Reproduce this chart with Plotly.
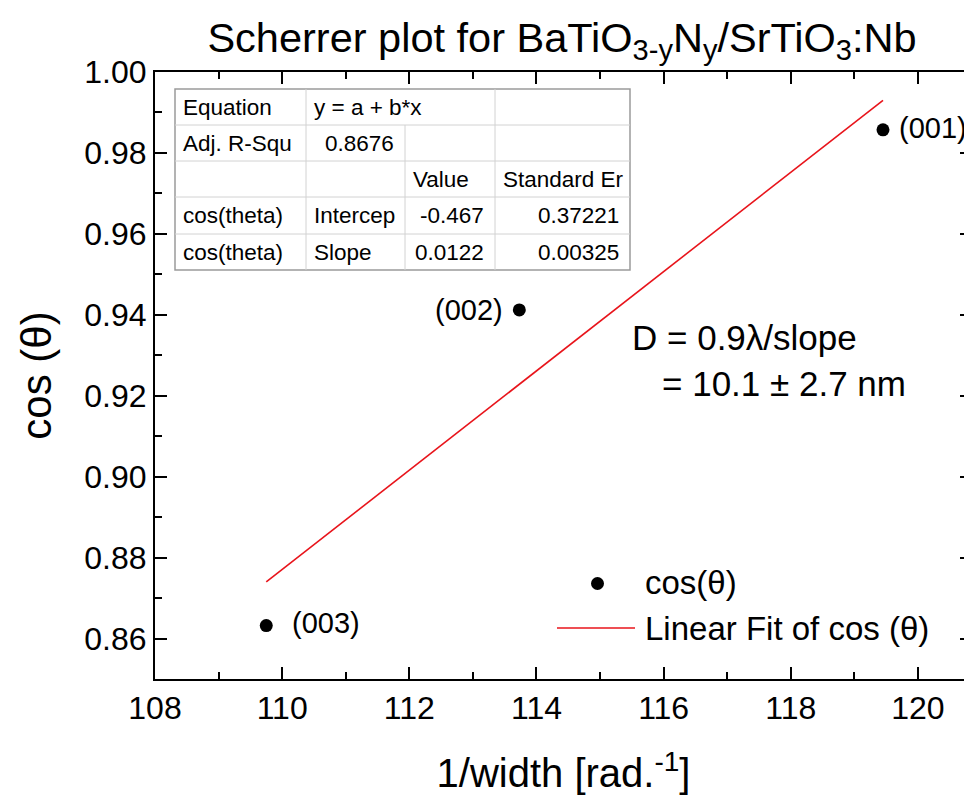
import plotly.graph_objects as go

# ---------------- data ----------------
inv_width = [119.45, 113.73, 109.75]          # 1/width [rad^-1]
cos_theta = [0.9857, 0.9412, 0.8632]          # cos(theta)
peak_labels = ["(001)", "(002)", "(003)"]

fit_x = [109.75, 119.45]                       # linear fit end points
fit_y = [0.874, 0.993]

x_ticks = [108, 110, 112, 114, 116, 118, 120]
y_ticks = [0.86, 0.88, 0.90, 0.92, 0.94, 0.96, 0.98, 1.00]

table_rows = [
    ["Equation", "y = a + b*x", "", ""],
    ["Adj. R-Squ", "0.8676", "", ""],
    ["", "", "Value", "Standard Er"],
    ["cos(theta)", "Intercep", "-0.467", "0.37221"],
    ["cos(theta)", "Slope", "0.0122", "0.00325"],
]

result_lines = ["D = 0.9λ/slope", "= 10.1 ± 2.7 nm"]
legend_names = ["cos(θ)", "Linear Fit of cos (θ)"]

# ---------------- layout geometry ----------------
# the page body has an 8px margin: figure pixel = screen pixel - 8
OFF = 8
W, H = 972 - OFF, 798 - OFF
L, R, T, B = 155, 972, 72, 679          # plot area in screen pixels
FONT = "Liberation Sans, Arial, sans-serif"


def px(x):
    return (x - L) / (R - L)


def py(y):
    return (B - y) / (B - T)


fig = go.Figure()

fig.add_trace(go.Scatter(
    x=fit_x, y=fit_y, mode="lines", name=legend_names[1],
    line=dict(color="#e8141b", width=1.6), showlegend=False,
))
fig.add_trace(go.Scatter(
    x=inv_width, y=cos_theta, mode="markers", name=legend_names[0],
    marker=dict(color="black", size=13), showlegend=False,
))

annotations = []
shapes = []

# point labels
label_cfg = [("left", 14, 2), ("right", -14, 0), ("left", 24, 3)]
for xv, yv, lab, (anc, xs, ys) in zip(inv_width, cos_theta, peak_labels, label_cfg):
    annotations.append(dict(x=xv, y=yv, xref="x", yref="y", text=lab, showarrow=False,
                            xanchor=anc, yanchor="middle", xshift=xs, yshift=ys,
                            font=dict(size=29, family=FONT, color="black")))

# result text
annotations.append(dict(x=px(630), y=py(338), xref="paper", yref="paper", text=result_lines[0],
                        showarrow=False, xanchor="left", yanchor="middle",
                        font=dict(size=35, family=FONT, color="black")))
annotations.append(dict(x=px(660), y=py(383), xref="paper", yref="paper", text=result_lines[1],
                        showarrow=False, xanchor="left", yanchor="middle",
                        font=dict(size=35, family=FONT, color="black")))

# manual legend
shapes.append(dict(type="circle", xref="paper", yref="paper",
                   x0=px(591), x1=px(604), y0=py(577), y1=py(590),
                   fillcolor="black", line=dict(color="black", width=0)))
annotations.append(dict(x=px(643), y=py(582), xref="paper", yref="paper", text=legend_names[0],
                        showarrow=False, xanchor="left", yanchor="middle",
                        font=dict(size=33, family=FONT, color="black")))
shapes.append(dict(type="line", xref="paper", yref="paper",
                   x0=px(557), x1=px(635), y0=py(628), y1=py(628),
                   line=dict(color="#e8141b", width=1.6)))
annotations.append(dict(x=px(643), y=py(628), xref="paper", yref="paper", text=legend_names[1],
                        showarrow=False, xanchor="left", yanchor="middle",
                        font=dict(size=33, family=FONT, color="black")))

# table
col_x = [175, 306, 405, 495, 630]
row_y = [89, 125, 161, 197, 234, 270]
align = [
    ["left", "left", None, None],
    ["left", "right", None, None],
    [None, None, "left", "left"],
    ["left", "left", "right", "right"],
    ["left", "left", "right", "right"],
]
shapes.append(dict(type="rect", xref="paper", yref="paper",
                   x0=px(col_x[0]), x1=px(col_x[-1]), y0=py(row_y[-1]), y1=py(row_y[0]),
                   fillcolor="white", line=dict(color="#9a9a9a", width=1.5), layer="above"))
for yy in row_y[1:-1]:
    shapes.append(dict(type="line", xref="paper", yref="paper",
                       x0=px(col_x[0]), x1=px(col_x[-1]), y0=py(yy), y1=py(yy),
                       line=dict(color="#d2d2d2", width=1), layer="above"))
for ci, xx in enumerate(col_x[1:-1], start=1):
    y_start = row_y[1] if ci == 2 else row_y[0]
    shapes.append(dict(type="line", xref="paper", yref="paper",
                       x0=px(xx), x1=px(xx), y0=py(y_start), y1=py(row_y[-1]),
                       line=dict(color="#d2d2d2", width=1), layer="above"))
for ri, row in enumerate(table_rows):
    yc = (row_y[ri] + row_y[ri + 1]) / 2
    for ci, txt in enumerate(row):
        if not txt:
            continue
        a = align[ri][ci]
        if a == "left":
            xx, anc = col_x[ci] + 6, "left"
        else:
            xx, anc = col_x[ci + 1] - 9, "right"
        annotations.append(dict(x=px(xx), y=py(yc), xref="paper", yref="paper", text=txt,
                                showarrow=False, xanchor=anc, yanchor="middle",
                                font=dict(size=22.5, family=FONT, color="black")))

axis_common = dict(
    showline=True, linecolor="black", linewidth=2, mirror="allticks",
    ticks="inside", ticklen=12, tickwidth=2, tickcolor="black",
    showgrid=False, zeroline=False,
    tickfont=dict(size=32, family=FONT, color="black"),
)

fig.update_layout(
    width=W, height=H,
    margin=dict(l=L - OFF, r=W - (R - OFF), t=T - OFF, b=H - (B - OFF), pad=0),
    paper_bgcolor="white", plot_bgcolor="white",
    showlegend=False,
    title=dict(text="Scherrer plot for BaTiO<sub>3-y</sub>N<sub>y</sub>/SrTiO<sub>3</sub>:Nb",
               x=(562 - OFF) / W, xanchor="center",
               y=1 - (37 - OFF) / H, yanchor="middle",
               font=dict(size=41.5, family=FONT, color="black")),
    xaxis=dict(range=[108, 120.85], tickvals=x_ticks, ticktext=[str(v) for v in x_ticks],
               minor=dict(dtick=1, tick0=108, ticks="inside", ticklen=7, tickwidth=2, tickcolor="black"),
               title=dict(text="1/width [rad.<sup>-1</sup>]", standoff=34,
                          font=dict(size=40, family=FONT, color="black")),
               automargin=False, **axis_common),
    yaxis=dict(range=[0.85, 1.0], tickvals=y_ticks, ticktext=[f"{v:.2f}" for v in y_ticks],
               minor=dict(dtick=0.01, tick0=0.85, ticks="inside", ticklen=7, tickwidth=2, tickcolor="black"),
               title=dict(text="cos (θ)", standoff=20,
                          font=dict(size=42, family=FONT, color="black")),
               automargin=False, **axis_common),
    annotations=annotations,
    shapes=shapes,
)

fig.write_html("out.html")
